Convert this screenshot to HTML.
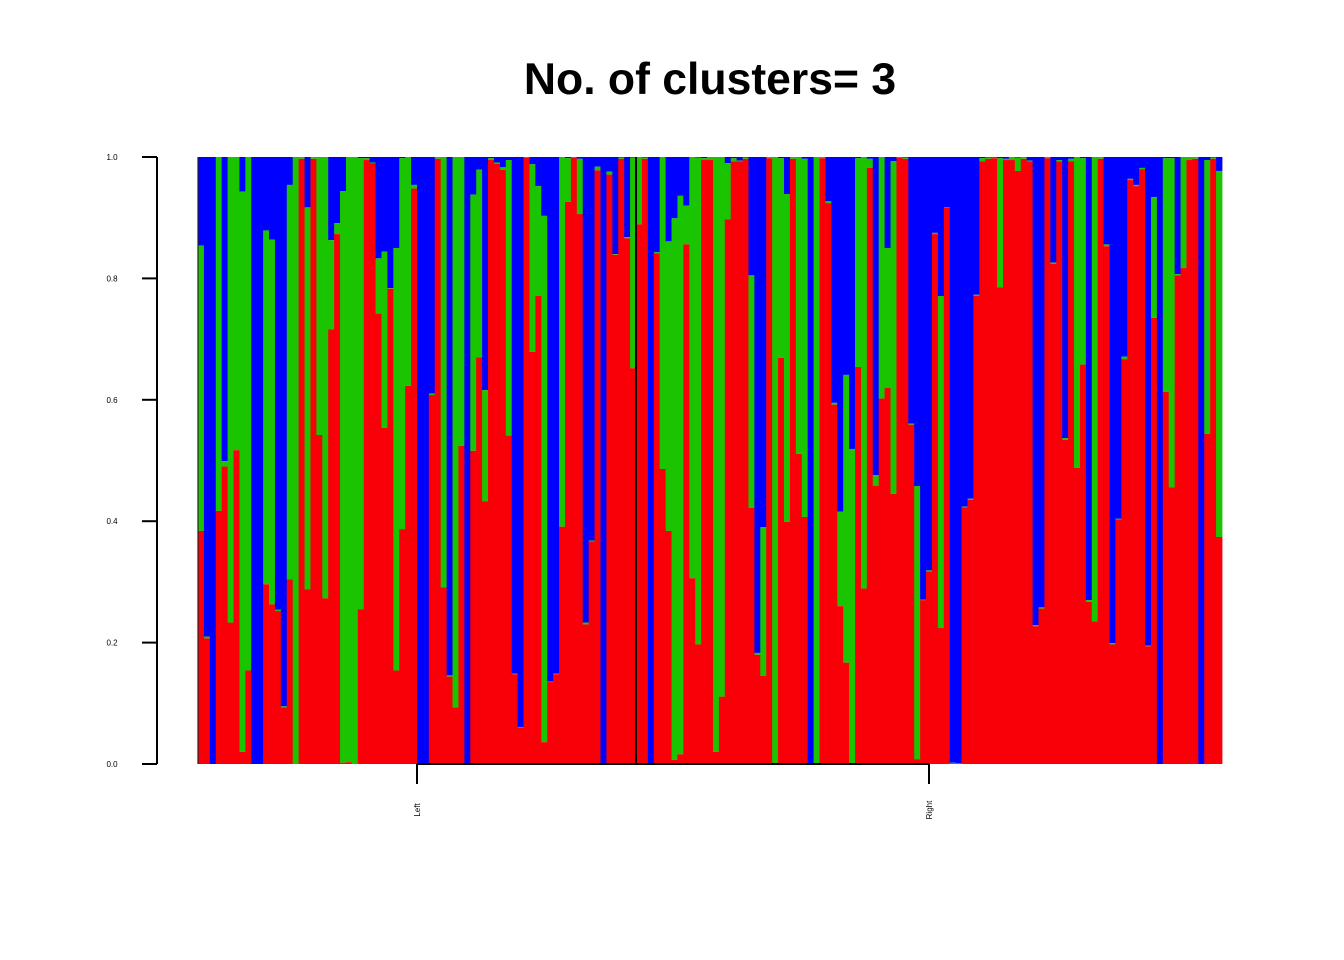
<!DOCTYPE html>
<html><head><meta charset="utf-8"><style>
html,body{margin:0;padding:0;background:#fff;}
svg{display:block;font-family:"Liberation Sans",Arial,sans-serif;}
</style></head><body>
<svg id="chart" width="1344" height="960" viewBox="0 0 1344 960" xmlns="http://www.w3.org/2000/svg">
<rect x="0" y="0" width="1344" height="960" fill="#fff"/>
<text x="710" y="94" text-anchor="middle" font-size="44.5" font-weight="bold" fill="#000">No. of clusters= 3</text>
<g id="bars"></g>
<g id="axes"></g>
</svg>
<script>
const groupLabels = ["Left", "Right"];
const groupSizes = [74, 99];
const redShare = [
0.384,0.207,0,0.417,0.49,0.233,0.517,0.02,0.154,0,0,0.296,0.263,0.252,0.093,0.304,0,0.997,0.288,0.997,
0.542,0.273,0.716,0.873,0.002,0.003,0,0.255,0.995,0.99,0.742,0.554,0.783,0.154,0.387,0.623,0.948,0,0,0.608,
0.997,0.291,0.144,0.093,0.524,0,0.516,0.67,0.433,0.995,0.989,0.979,0.541,0.148,0.06,0.999,0.679,0.771,0.036,0.135,
0.148,0.391,0.926,0.999,0.906,0.23,0.367,0.978,0,0.971,0.839,0.997,0.866,0.652,
0.889,0.997,0,0.841,0.486,0.384,0.007,0.016,0.856,0.306,0.197,0.995,0.995,0.02,0.111,0.897,0.993,0.993,0.997,0.422,
0.18,0.145,0.998,0.001,0.669,0.399,0.997,0.511,0.407,0,0,0.998,0.924,0.592,0.26,0.167,0.001,0.654,0.289,0.982,
0.458,0.602,0.62,0.445,0.999,0.997,0.559,0.008,0.27,0.317,0.873,0.224,0.916,0.001,0,0.423,0.435,0.771,0.993,0.997,
0.998,0.785,0.995,0.995,0.977,0.997,0.993,0.227,0.256,0.998,0.824,0.993,0.534,0.993,0.488,0.658,0.267,0.235,0.997,0.853,
0.197,0.403,0.667,0.962,0.952,0.98,0.194,0.735,0,0.613,0.456,0.805,0.817,0.995,0.997,0,0.544,0.997,0.374
];
const redGreenShare = [
0.854,0.21,0,1,0.499,1,1,0.943,1,0,0,0.879,0.864,0.254,0.095,0.954,1,1,0.917,1,
1,1,0.863,0.891,0.944,1,1,0.998,0.998,0.991,0.833,0.844,0.784,0.85,0.998,1,0.954,0.001,0.001,0.61,
1,1,0.146,1,1,0,0.938,0.979,0.616,0.998,0.991,0.983,0.995,0.149,0.061,1,0.988,0.952,0.903,0.136,
0.149,1,0.998,1,0.997,0.233,0.368,0.984,0.001,0.976,0.84,0.999,0.868,0.999,
1,0.999,0,0.843,1,0.861,0.899,0.936,0.92,1,0.999,0.998,1,1,1,0.99,0.998,0.994,0.999,0.805,
0.183,0.39,1,1,0.998,0.939,1,1,0.997,0,1,1,0.927,0.595,0.416,0.641,0.519,0.998,1,0.997,
0.476,1,0.85,0.993,1,0.999,0.561,0.458,0.271,0.319,0.875,0.771,0.917,0.002,0.001,0.424,0.437,0.773,0.998,0.999,
0.999,0.998,0.997,1,0.999,1,0.994,0.229,0.258,1,0.826,0.995,0.537,0.997,1,0.998,0.27,1,1,0.856,
0.199,0.404,0.671,0.964,0.954,0.982,0.195,0.934,0,0.998,0.998,0.807,1,1,1,0,0.995,0.999,0.977
];
const yTicks = [0, 0.2, 0.4, 0.6, 0.8, 1.0];
const yTickLabels = ["0.0","0.2","0.4","0.6","0.8","1.0"];

const NS = "http://www.w3.org/2000/svg";
const plotL = 198, plotR = 1222, plotT = 157, plotB = 764;
const n = redShare.length;
const bw = (plotR - plotL) / n;
function xPos(i){ return plotL + i * bw; }
function yPos(v){ return plotB - v * (plotB - plotT); }
function mk(tag, attrs, parent){
  const e = document.createElementNS(NS, tag);
  for (const k in attrs) e.setAttribute(k, attrs[k]);
  parent.appendChild(e);
  return e;
}
const bars = document.getElementById("bars");
const axes = document.getElementById("axes");
for (let i = 0; i < n; i++) {
  const x = xPos(i);
  const r = redShare[i], c = Math.max(redShare[i], redGreenShare[i]);
  const b = mk("rect", {x: x, y: yPos(1), width: bw + 0.4, height: yPos(c) - yPos(1), fill: "#0000FF"}, bars);
  
  
  const g = mk("rect", {x: x, y: yPos(c), width: bw + 0.4, height: yPos(r) - yPos(c), fill: "#1AC400"}, bars);
  
  
  const rr = mk("rect", {x: x, y: yPos(r), width: bw + 0.4, height: plotB - yPos(r), fill: "#F90008"}, bars);
  
  
}
const lb = mk("line", {x1: plotL, y1: plotT, x2: plotL, y2: plotB, stroke: "#222", "stroke-width": 1.2}, axes);


let acc = 0;
const centers = [];
for (let gi = 0; gi < groupSizes.length; gi++) {
  centers.push(xPos(acc + groupSizes[gi] / 2));
  acc += groupSizes[gi];
  if (gi < groupSizes.length - 1) {
    const s = mk("line", {x1: xPos(acc), y1: plotT, x2: xPos(acc), y2: plotB, stroke: "#000", "stroke-width": 2}, axes);
    
    
  }
}
const ya = mk("line", {x1: 157, y1: yPos(1), x2: 157, y2: yPos(0), stroke: "#000", "stroke-width": 2}, axes);


yTicks.forEach((t, i) => {
  const tk = mk("line", {x1: 142, y1: yPos(t), x2: 157, y2: yPos(t), stroke: "#000", "stroke-width": 2}, axes);
  
  
  const lb2 = mk("text", {x: 112, y: yPos(t) + 3, "text-anchor": "middle", "font-size": 8, fill: "#000"}, axes);
  lb2.textContent = yTickLabels[i];
  
  
});
const xa = mk("line", {x1: centers[0], y1: plotB, x2: centers[centers.length-1], y2: plotB, stroke: "#000", "stroke-width": 2}, axes);


centers.forEach((cx, i) => {
  const tk = mk("line", {x1: cx, y1: plotB, x2: cx, y2: 784, stroke: "#000", "stroke-width": 2}, axes);
  
  
  const t = mk("text", {x: 0, y: 0, "text-anchor": "middle", "font-size": 8, fill: "#000", transform: "translate(" + (cx + 3) + ",810) rotate(-90)"}, axes);
  t.textContent = groupLabels[i];
  
  
});
</script>
</body></html>
